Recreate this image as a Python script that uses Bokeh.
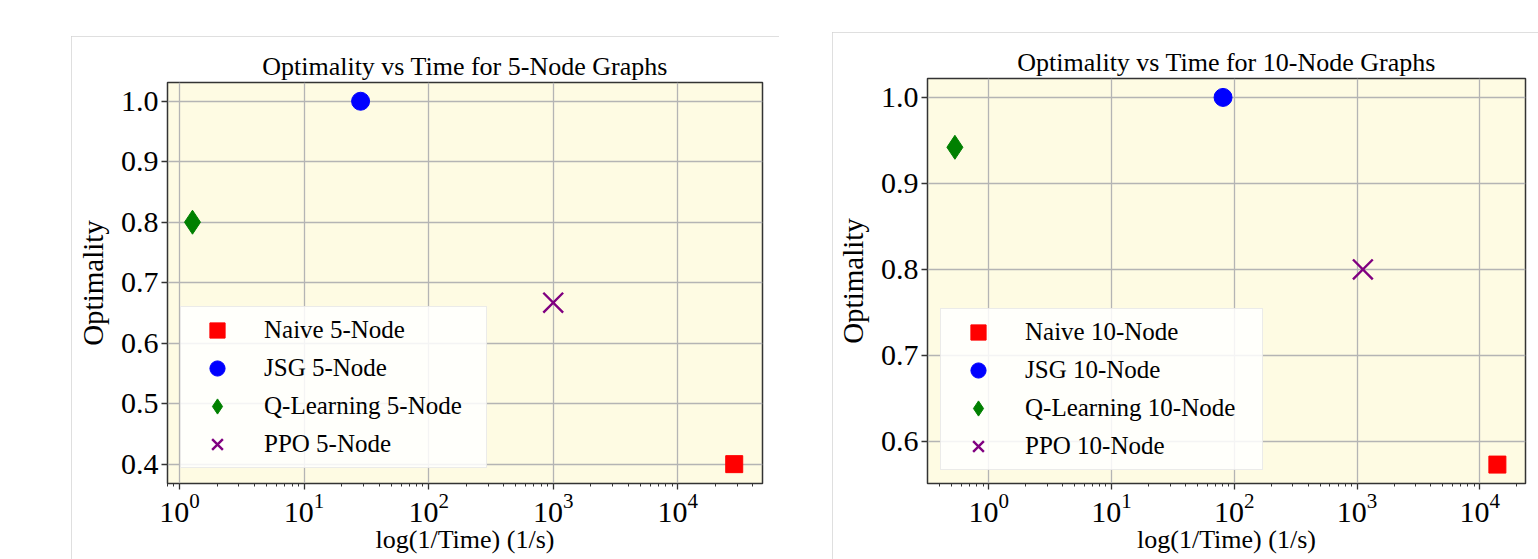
from bokeh.plotting import figure
from bokeh.models import Legend, LegendItem, FixedTicker, LogTickFormatter, Range1d, NumeralTickFormatter
from bokeh.layouts import row
from bokeh.embed import file_html
from bokeh.resources import INLINE

# ---- data ----
methods = ["Naive", "JSG", "Q-Learning", "PPO"]
speed_5 = [28400, 28.4, 1.27, 1000]
opt_5 = [0.4, 1.0, 0.8, 0.667]
speed_10 = [13900, 81, 0.53, 1115]
opt_10 = [0.573, 1.0, 0.942, 0.8]
x_major_ticks = [1, 10, 100, 1000, 10000]
y_ticks_5 = [0.4, 0.5, 0.6, 0.7, 0.8, 0.9, 1.0]
y_ticks_10 = [0.6, 0.7, 0.8, 0.9, 1.0]
titles = ["Optimality vs Time for 5-Node Graphs", "Optimality vs Time for 10-Node Graphs"]
tags = ["5-Node", "10-Node"]
x_label = "log(1/Time) (1/s)"
y_label = "Optimality"

FONT = "Liberation Serif"
COLORS = ["#ff0000", "#0000ff", "#008000", "#800080"]
MARKERS = ["square", "circle", "diamond", "x"]
SIZES = [17, 18, 24, 28]
minor_ticks = [k * 10.0 ** d for d in range(-1, 5) for k in range(2, 10)]


def make_panel(title, speeds, opts, tag, x_range, y_range, y_ticks, width, height,
               borders, margin, legend_loc, glyph_w, standoff, label_w):
    left, right, top, bottom = borders
    p = figure(width=width, height=height, x_axis_type="log",
               x_range=Range1d(*x_range), y_range=Range1d(*y_range),
               output_backend="svg", toolbar_location=None,
               min_border_left=left, min_border_right=right,
               min_border_top=top, min_border_bottom=bottom,
               background_fill_color="#fefbe3", border_fill_color="white",
               outline_line_color="#333333", outline_line_width=1.5,
               title=title)
    p.margin = margin
    p.styles = {"outline": "1px solid #d4d4d4", "outline-offset": "-1px"}

    p.title.text_font = FONT
    p.title.text_font_size = "26px"
    p.title.text_font_style = "normal"
    p.title.text_color = "black"
    p.title.align = "center"
    p.title.standoff = 3
    p.title.offset = 0

    p.xaxis.ticker = FixedTicker(ticks=x_major_ticks, minor_ticks=minor_ticks)
    p.xaxis.formatter = LogTickFormatter()
    p.yaxis.ticker = FixedTicker(ticks=y_ticks)
    p.yaxis.formatter = NumeralTickFormatter(format="0.0")

    for ax in (p.xaxis, p.yaxis):
        ax.axis_line_color = None
        ax.major_tick_line_color = "#333333"
        ax.major_tick_line_width = 1.3
        ax.major_tick_out = 6
        ax.major_tick_in = 0
        ax.minor_tick_line_color = "#333333"
        ax.minor_tick_line_width = 1
        ax.minor_tick_out = 3
        ax.minor_tick_in = 0
        ax.major_label_text_font = FONT
        ax.major_label_text_font_size = "30px"
        ax.major_label_text_color = "black"
        ax.axis_label_text_font = FONT
        ax.axis_label_text_font_style = "normal"
        ax.axis_label_text_color = "black"
    p.yaxis.minor_tick_line_color = None
    p.xaxis.axis_label = x_label
    p.xaxis.axis_label_text_font_size = "26px"
    p.xaxis.major_label_standoff = 4
    p.xaxis.axis_label_standoff = 0
    p.yaxis.axis_label = y_label
    p.yaxis.axis_label_text_font_size = "29px"
    p.yaxis.major_label_standoff = 3
    p.yaxis.axis_label_standoff = 9

    p.grid.grid_line_color = "#b4b4b4"
    p.grid.grid_line_width = 1.3

    items = []
    for i, m in enumerate(methods):
        kw = dict(x=[speeds[i]], y=[opts[i]], marker=MARKERS[i], size=SIZES[i],
                  fill_color=COLORS[i], line_color=COLORS[i])
        if MARKERS[i] == "x":
            kw["line_width"] = 2.4
        r = p.scatter(**kw)
        items.append(LegendItem(label=f"{m} {tag}", renderers=[r]))

    legend = Legend(items=items, location=legend_loc,
                    label_text_font=FONT, label_text_font_size="25px",
                    label_text_color="black",
                    glyph_width=glyph_w, glyph_height=38, label_height=38,
                    label_standoff=standoff, label_width=label_w,
                    spacing=0, padding=4, margin=0,
                    border_line_color="#d8d8d8", border_line_width=1,
                    background_fill_color="white", background_fill_alpha=0.85)
    p.add_layout(legend)
    return p


p1 = make_panel(titles[0], speed_5, opt_5, tags[0],
                (0.80, 47900), (0.368, 1.031), y_ticks_5,
                708, 523, (96, 17, 46, 73), (36, 0, 0, 71),
                (13, 15), 64, 15, 218)
p2 = make_panel(titles[1], speed_10, opt_10, tags[1],
                (0.317, 23550), (0.551, 1.022), y_ticks_10,
                706, 527, (95, 13, 45, 76), (32, 0, 0, 53),
                (13, 13), 66, 14, 233)

layout = row(p1, p2)
open("out.html", "w").write(file_html(layout, INLINE))
